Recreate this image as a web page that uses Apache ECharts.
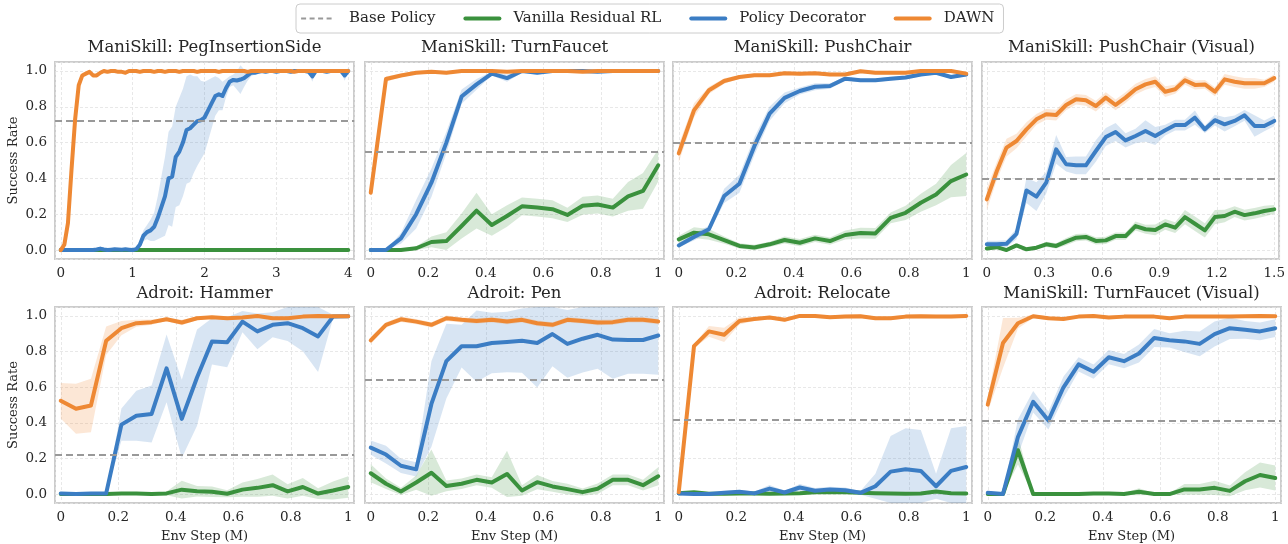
<!DOCTYPE html>
<html>
<head>
<meta charset="utf-8">
<script src="https://cdn.jsdelivr.net/npm/echarts@6/dist/echarts.min.js"></script>
<style>
html,body{margin:0;padding:0;background:#fff;}
#chart{width:1288px;height:544px;}
</style>
</head>
<body>
<div id="chart"></div>
<script>
// ---------------- DATA ----------------
const methodNames = ['Base Policy', 'Vanilla Residual RL', 'Policy Decorator', 'DAWN'];
const panelTitles = ['ManiSkill: PegInsertionSide', 'ManiSkill: TurnFaucet', 'ManiSkill: PushChair', 'ManiSkill: PushChair (Visual)',
  'Adroit: Hammer', 'Adroit: Pen', 'Adroit: Relocate', 'ManiSkill: TurnFaucet (Visual)'];
const basePolicy = [0.72, 0.553, 0.60, 0.404, 0.218, 0.635, 0.418, 0.413];
const xLimits = [[-0.08, 4.08], [-0.02, 1.02], [-0.02, 1.02], [-0.025, 1.525], [-0.02, 1.02], [-0.02, 1.02], [-0.02, 1.02], [-0.02, 1.02]];

// x positions (Env Step, M)
const stepsPeg = [0,0.05,0.1,0.15,0.2,0.25,0.3,0.35,0.4,0.45,0.5,0.55,0.6,0.65,0.7,0.75,0.8,0.85,0.9,0.95,
  1,1.05,1.1,1.15,1.2,1.25,1.3,1.35,1.4,1.45,1.5,1.55,1.6,1.65,1.7,1.75,1.8,1.85,1.9,1.95,
  2,2.05,2.1,2.15,2.2,2.25,2.3,2.35,2.4,2.45,2.5,2.55,2.6,2.65,2.7,2.75,2.8,2.85,2.9,2.95,
  3,3.05,3.1,3.15,3.2,3.25,3.3,3.35,3.4,3.45,3.5,3.55,3.6,3.65,3.7,3.75,3.8,3.85,3.9,3.95,4];
const steps1M = [0,0.053,0.105,0.158,0.211,0.263,0.316,0.368,0.421,0.474,0.526,0.579,0.632,0.684,0.737,0.789,0.842,0.895,0.947,1];
const steps15M = [0,0.052,0.103,0.155,0.207,0.259,0.31,0.362,0.414,0.466,0.517,0.569,0.621,0.672,0.724,0.776,0.828,0.879,0.931,0.983,
  1.034,1.086,1.138,1.19,1.241,1.293,1.345,1.397,1.448,1.5];

// Panel 1: PegInsertionSide
const pegVanilla = [0,0,0,0,0,0,0,0,0,0,0,0,0,0,0,0,0,0,0,0,0,0,0,0,0,0,0,0,0,0,0,0,0,0,0,0,0,0,0,0,0,
  0,0,0,0,0,0,0,0,0,0,0,0,0,0,0,0,0,0,0,0,0,0,0,0,0,0,0,0,0,0,0,0,0,0,0,0,0,0,0,0];
const pegVanillaStd = [0,0,0,0,0,0,0,0,0,0,0,0,0,0,0,0,0,0,0,0,0,0,0,0,0,0,0,0,0,0,0,0,0,0,0,0,0,0,0,0,0,
  0,0,0,0,0,0,0,0,0,0,0,0,0,0,0,0,0,0,0,0,0,0,0,0,0,0,0,0,0,0,0,0,0,0,0,0,0,0,0,0];
const pegDecor = [0,0,0,0,0,0,0,0,0,0,0.003,0.008,0.003,0,0.002,0.004,0.003,0.002,0.004,0.002,0,
  0.005,0.03,0.08,0.1,0.11,0.13,0.18,0.24,0.3,0.4,0.41,0.52,0.55,0.6,0.67,0.68,0.7,0.72,0.725,0.74,
  0.78,0.82,0.86,0.87,0.86,0.905,0.94,0.95,0.947,0.952,0.96,0.975,0.99,0.99,0.995,
  1,0.995,1,1,0.995,1,1,1,0.995,1,1,1,1,0.995,
  0.97,1,1,1,0.995,1,1,1,1,0.975,1];
const pegDecorStd = [0.003,0.003,0.003,0.003,0.003,0.003,0.003,0.003,0.003,0.003,0.003,0.003,0.003,0.003,0.003,0.003,0.003,0.003,0.003,0.003,0.003,0.003,
  0.02,0.03,0.04,0.06,0.08,0.12,0.17,0.22,0.26,0.28,0.28,0.3,0.3,0.3,0.3,0.27,0.25,0.22,0.2,0.17,0.14,0.11,0.09,0.08,0.05,0.03,0.03,0.05,0.08,0.05,0.03,0.02,0.01,
  0.005,0.005,0.005,0.005,0.005,0.005,0.005,0.005,0.005,0.005,0.005,0.005,0.005,0.005,0.005,
  0.03,0.005,0.005,0.005,0.005,0.005,0.005,0.005,0.005,0.03,0.005];
const pegDawn = [0,0.03,0.15,0.45,0.73,0.92,0.975,0.985,0.995,0.975,0.975,0.99,1,
  0.995,1,1,0.995,0.995,0.99,1,1,
  1,0.995,1,1,1,0.995,1,1,0.995,1,
  1,1,0.995,1,1,1,1,0.995,1,1,
  1,1,1,0.995,1,1,1,1,1,1,
  1,0.995,1,1,1,1,1,1,1,1,
  1,1,1,1,0.995,1,1,1,1,1,
  1,1,1,1,1,1,1,1,1,1];
const pegDawnStd = [0,0.02,0.04,0.05,0.05,0.03,0.015,0.008,0.008,0.008,0.008,0.008,0.008,0.008,0.008,0.008,0.008,0.008,0.008,0.008,0.008,
  0.008,0.008,0.008,0.008,0.008,0.008,0.008,0.008,0.008,0.008,0.008,0.008,0.008,0.008,0.008,0.008,0.008,0.008,0.008,0.008,
  0.008,0.008,0.008,0.008,0.008,0.008,0.008,0.008,0.008,0.008,0.008,0.008,0.008,0.008,0.008,0.008,0.008,0.008,0.008,0.008,
  0.008,0.008,0.008,0.008,0.008,0.008,0.008,0.008,0.008,0.008,0.008,0.008,0.008,0.008,0.008,0.008,0.008,0.008,0.008,0.008];

// Panel 2: TurnFaucet
const tfVanilla = [0,0,0,0.01,0.045,0.05,0.134,0.22,0.14,0.19,0.244,0.237,0.228,0.196,0.247,0.254,0.237,0.3,0.33,0.473];
const tfVanillaStd = [0,0,0.005,0.01,0.03,0.05,0.07,0.1,0.06,0.06,0.05,0.05,0.05,0.04,0.05,0.05,0.05,0.08,0.1,0.09];
const tfDecor = [0,0,0.065,0.2,0.376,0.6,0.857,0.925,0.985,0.96,1,0.99,1,1,1,0.995,1,1,1,1];
const tfDecorStd = [0,0,0.03,0.08,0.08,0.06,0.04,0.03,0.01,0.02,0.01,0.01,0.005,0.005,0.005,0.005,0.005,0.005,0.005,0.005];
const tfDawn = [0.32,0.955,0.975,0.99,0.995,0.99,1,1,1,0.995,1,1,1,1,0.995,1,1,1,1,1];
const tfDawnStd = [0.03,0.015,0.01,0.01,0.008,0.01,0.005,0.005,0.005,0.005,0.005,0.005,0.005,0.005,0.005,0.005,0.005,0.005,0.005,0.005];

// Panel 3: PushChair
const pcVanilla = [0.06,0.097,0.088,0.055,0.023,0.014,0.032,0.056,0.041,0.065,0.05,0.084,0.095,0.093,0.18,0.208,0.264,0.31,0.385,0.422];
const pcVanillaStd = [0.02,0.03,0.03,0.02,0.015,0.015,0.015,0.02,0.02,0.02,0.02,0.025,0.03,0.03,0.03,0.04,0.05,0.06,0.09,0.12];
const pcDecor = [0.026,0.073,0.116,0.302,0.37,0.58,0.762,0.85,0.888,0.912,0.916,0.957,0.948,0.948,0.957,0.963,0.98,0.99,0.966,0.98];
const pcDecorStd = [0.01,0.02,0.02,0.04,0.05,0.05,0.04,0.03,0.02,0.02,0.015,0.01,0.01,0.01,0.01,0.01,0.01,0.01,0.01,0.01];
const pcDawn = [0.54,0.78,0.892,0.944,0.966,0.976,0.976,0.987,0.985,0.987,0.98,0.98,0.998,0.99,0.99,0.99,1,1,1,0.985];
const pcDawnStd = [0.05,0.04,0.02,0.015,0.01,0.01,0.01,0.01,0.01,0.01,0.01,0.01,0.01,0.01,0.01,0.01,0.01,0.01,0.01,0.01];

// Panel 4: PushChair (Visual)
const pvVanilla = [0.009,0.016,0,0.026,0.004,0.013,0.032,0.023,0.047,0.069,0.073,0.051,0.054,0.078,0.078,0.134,0.116,0.112,0.143,0.125,
  0.184,0.147,0.11,0.184,0.19,0.214,0.195,0.205,0.218,0.227];
const pvVanillaStd = [0.01,0.01,0.01,0.01,0.01,0.01,0.015,0.015,0.02,0.02,0.02,0.02,0.02,0.02,0.02,0.025,0.025,0.03,0.03,0.03,
  0.04,0.04,0.04,0.04,0.035,0.03,0.03,0.03,0.03,0.025];
const pvDecor = [0.032,0.032,0.035,0.09,0.333,0.298,0.376,0.562,0.479,0.473,0.473,0.553,0.631,0.659,0.612,0.637,0.665,0.637,0.669,0.698,
  0.698,0.739,0.674,0.725,0.702,0.721,0.752,0.693,0.693,0.721];
const pvDecorStd = [0.02,0.02,0.02,0.03,0.07,0.08,0.06,0.08,0.04,0.05,0.05,0.06,0.05,0.05,0.04,0.04,0.06,0.05,0.03,0.03,
  0.03,0.04,0.02,0.03,0.04,0.03,0.03,0.06,0.03,0.03];
const pvDawn = [0.283,0.44,0.572,0.609,0.674,0.73,0.758,0.754,0.81,0.842,0.836,0.804,0.851,0.81,0.851,0.898,0.925,0.94,0.884,0.898,
  0.948,0.922,0.925,0.884,0.953,0.94,0.931,0.931,0.931,0.96];
const pvDawnStd = [0.06,0.05,0.05,0.04,0.04,0.03,0.03,0.03,0.03,0.03,0.03,0.03,0.03,0.03,0.03,0.03,0.03,0.03,0.03,0.025,
  0.025,0.025,0.025,0.025,0.03,0.03,0.03,0.03,0.02,0.02];

// Panel 5: Hammer
const hmVanilla = [0,0,0,0,0.003,0.003,0,0.004,0.025,0.016,0.013,0.002,0.025,0.035,0.05,0.015,0.04,0.003,0.02,0.04];
const hmVanillaStd = [0,0,0,0,0.005,0.005,0.005,0.01,0.05,0.03,0.03,0.02,0.04,0.05,0.06,0.04,0.05,0.03,0.05,0.06];
const hmDecor = [0.004,0,0.004,0.004,0.39,0.44,0.45,0.706,0.422,0.654,0.857,0.852,0.968,0.913,0.95,0.959,0.931,0.885,0.996,0.998];
const hmDecorStd = [0.005,0.003,0.005,0.005,0.09,0.14,0.16,0.19,0.22,0.27,0.13,0.14,0.06,0.1,0.07,0.1,0.13,0.2,0.01,0.005];
const hmDawn = [0.524,0.479,0.497,0.861,0.931,0.959,0.965,0.981,0.963,0.987,0.993,0.987,0.991,1,0.987,0.987,0.996,1,0.998,0.998];
const hmDawnStd = [0.1,0.14,0.15,0.08,0.04,0.02,0.015,0.01,0.015,0.01,0.008,0.008,0.008,0.005,0.008,0.008,0.005,0.005,0.005,0.005];

// Panel 6: Pen
const pnVanilla = [0.117,0.058,0.015,0.065,0.12,0.046,0.058,0.08,0.065,0.113,0.02,0.067,0.043,0.028,0.011,0.03,0.08,0.08,0.05,0.1];
const pnVanillaStd = [0.05,0.03,0.02,0.04,0.13,0.03,0.03,0.03,0.03,0.13,0.03,0.04,0.03,0.03,0.02,0.03,0.03,0.03,0.03,0.05];
const pnDecor = [0.261,0.222,0.159,0.139,0.506,0.746,0.83,0.83,0.848,0.854,0.861,0.848,0.898,0.843,0.872,0.894,0.867,0.865,0.865,0.89];
const pnDecorStd = [0.04,0.05,0.04,0.04,0.24,0.21,0.12,0.2,0.17,0.17,0.18,0.25,0.18,0.19,0.19,0.19,0.22,0.19,0.19,0.22];
const pnDawn = [0.863,0.95,0.981,0.968,0.95,0.987,0.978,0.972,0.978,0.968,0.978,0.959,0.95,0.978,0.972,0.963,0.965,0.978,0.978,0.968];
const pnDawnStd = [0.02,0.015,0.015,0.015,0.015,0.015,0.015,0.015,0.015,0.015,0.015,0.015,0.015,0.015,0.015,0.015,0.015,0.015,0.015,0.015];

// Panel 7: Relocate
const rlVanilla = [0.005,0.01,0.002,0.002,0.003,0.003,0.002,0.003,0.005,0.01,0.012,0.01,0.008,0.005,0.003,0.002,0.003,0.015,0.005,0.003];
const rlVanillaStd = [0.005,0.005,0.005,0.005,0.005,0.005,0.005,0.005,0.005,0.005,0.005,0.005,0.005,0.005,0.005,0.005,0.005,0.005,0.005,0.005];
const rlDecor = [0.004,0,0,0.007,0.013,0.004,0.031,0.009,0.037,0.019,0.026,0.022,0.007,0.044,0.126,0.139,0.13,0.044,0.13,0.152];
const rlDecorStd = [0.005,0.005,0.005,0.01,0.01,0.01,0.02,0.01,0.02,0.015,0.015,0.015,0.01,0.07,0.2,0.23,0.23,0.07,0.24,0.23];
const rlDawn = [0.01,0.83,0.913,0.894,0.972,0.983,0.991,0.978,1,1,0.993,0.996,0.998,0.987,0.987,0.996,0.998,0.996,0.996,1];
const rlDawnStd = [0.005,0.01,0.03,0.04,0.02,0.01,0.01,0.01,0.01,0.01,0.01,0.01,0.01,0.01,0.01,0.01,0.01,0.01,0.01,0.01];

// Panel 8: TurnFaucet (Visual)
const tvVanilla = [0,0,0.246,0,0,0,0,0.004,0.004,0,0.013,0,0,0.026,0.026,0.035,0.018,0.072,0.107,0.09];
const tvVanillaStd = [0,0,0.08,0,0,0,0,0.005,0.005,0.005,0.02,0.005,0.005,0.03,0.03,0.04,0.03,0.05,0.07,0.07];
const tvDecor = [0.007,0,0.32,0.518,0.413,0.598,0.728,0.687,0.768,0.746,0.789,0.876,0.863,0.857,0.843,0.898,0.931,0.922,0.913,0.931];
const tvDecorStd = [0.005,0.005,0.1,0.06,0.05,0.06,0.04,0.04,0.04,0.04,0.05,0.05,0.04,0.06,0.07,0.07,0.06,0.05,0.05,0.05];
const tvDawn = [0.502,0.848,0.959,0.998,0.987,0.983,0.996,1,0.991,0.996,0.996,0.996,0.987,0.996,0.996,0.996,0.996,0.998,1,0.998];
const tvDawnStd = [0.04,0.14,0.03,0.01,0.01,0.008,0.008,0.008,0.008,0.008,0.008,0.008,0.008,0.008,0.008,0.008,0.008,0.008,0.008,0.008];

// ---------------- ASSEMBLY ----------------
const panels = [
  {x: stepsPeg, v: pegVanilla, vs: pegVanillaStd, d: pegDecor, ds: pegDecorStd, w: pegDawn, ws: pegDawnStd},
  {x: steps1M, v: tfVanilla, vs: tfVanillaStd, d: tfDecor, ds: tfDecorStd, w: tfDawn, ws: tfDawnStd},
  {x: steps1M, v: pcVanilla, vs: pcVanillaStd, d: pcDecor, ds: pcDecorStd, w: pcDawn, ws: pcDawnStd},
  {x: steps15M, v: pvVanilla, vs: pvVanillaStd, d: pvDecor, ds: pvDecorStd, w: pvDawn, ws: pvDawnStd},
  {x: steps1M, v: hmVanilla, vs: hmVanillaStd, d: hmDecor, ds: hmDecorStd, w: hmDawn, ws: hmDawnStd},
  {x: steps1M, v: pnVanilla, vs: pnVanillaStd, d: pnDecor, ds: pnDecorStd, w: pnDawn, ws: pnDawnStd},
  {x: steps1M, v: rlVanilla, vs: rlVanillaStd, d: rlDecor, ds: rlDecorStd, w: rlDawn, ws: rlDawnStd},
  {x: steps1M, v: tvVanilla, vs: tvVanillaStd, d: tvDecor, ds: tvDecorStd, w: tvDawn, ws: tvDawnStd}
];

const FONT = 'DejaVu Serif';
const TXT = '#262626';
const C_BASE = '#999999', C_VAN = '#3a913d', C_DEC = '#3b7dc4', C_DAWN = '#ee8833';
const BAND = {van: 'rgba(58,145,61,0.2)', dec: 'rgba(59,125,196,0.2)', dawn: 'rgba(238,136,51,0.2)'};

const colLeft = [55, 365, 673, 982];
const rowTop = [62, 307];
const GW = 299, GH = 197;

const grids = [], xAxes = [], yAxes = [], titles = [], series = [];

function bandSeries(p, xs, mean, std, fill) {
  return {
    type: 'custom', xAxisIndex: p, yAxisIndex: p, silent: true, z: 1, clip: true,
    data: [[xs[0], mean[0]]],
    renderItem: function (params, api) {
      const up = [], lo = [];
      for (let i = 0; i < xs.length; i++) {
        up.push(api.coord([xs[i], mean[i] + std[i]]));
        lo.push(api.coord([xs[i], mean[i] - std[i]]));
      }
      const pts = up.concat(lo.reverse());
      const cs = params.coordSys;
      return {
        type: 'polygon',
        shape: {points: echarts.graphic.clipPointsByRect(pts, {x: cs.x, y: cs.y, width: cs.width, height: cs.height})},
        style: {fill: fill, stroke: null}
      };
    }
  };
}
function lineSeries(p, name, xs, ys, color) {
  return {
    type: 'line', name: name, xAxisIndex: p, yAxisIndex: p, z: 3,
    symbol: 'none', showSymbol: false, silent: true, animation: false,
    data: xs.map((x, i) => [x, ys[i]]),
    lineStyle: {color: color, width: 4, cap: 'round', join: 'round'},
    itemStyle: {color: color}
  };
}

panels.forEach((pd, p) => {
  const r = Math.floor(p / 4), c = p % 4;
  grids.push({left: colLeft[c], top: rowTop[r], width: GW, height: GH, show: true,
    borderColor: '#cccccc', borderWidth: 2, backgroundColor: 'transparent', containLabel: false});
  xAxes.push({
    type: 'value', gridIndex: p, min: xLimits[p][0], max: xLimits[p][1],
    splitNumber: p === 0 ? 4 : 5,
    axisLine: {show: false}, axisTick: {show: false},
    axisLabel: {show: true, showMinLabel: false, showMaxLabel: false, margin: 7,
      fontFamily: FONT, fontSize: 13.5, color: TXT},
    splitLine: {show: true, lineStyle: {color: '#e2e2e2', width: 0.8, type: [3, 2]}},
    name: r === 1 ? 'Env Step (M)' : '', nameLocation: 'middle', nameGap: 27,
    nameTextStyle: {fontFamily: FONT, fontSize: 13, color: TXT}
  });
  yAxes.push({
    type: 'value', gridIndex: p, min: -0.05, max: 1.05, splitNumber: 5,
    axisLine: {show: false}, axisTick: {show: false},
    axisLabel: {show: c === 0, showMinLabel: false, showMaxLabel: false, margin: 8,
      fontFamily: FONT, fontSize: 13.5, color: TXT, formatter: v => v.toFixed(1)},
    splitLine: {show: true, lineStyle: {color: '#e2e2e2', width: 0.8, type: [3, 2]}},
    name: c === 0 ? 'Success Rate' : '', nameLocation: 'middle', nameGap: 35,
    nameTextStyle: {fontFamily: FONT, fontSize: 13, color: TXT}
  });
  titles.push({
    text: panelTitles[p], left: colLeft[c] + GW / 2, top: r === 0 ? 39 : 285, textAlign: 'center', padding: 0,
    textStyle: {fontFamily: FONT, fontSize: 16.5, fontWeight: 'normal', color: TXT}
  });
  series.push(bandSeries(p, pd.x, pd.v, pd.vs, BAND.van));
  series.push(bandSeries(p, pd.x, pd.d, pd.ds, BAND.dec));
  series.push(bandSeries(p, pd.x, pd.w, pd.ws, BAND.dawn));
  series.push({
    type: 'line', name: methodNames[0], xAxisIndex: p, yAxisIndex: p, z: 2, data: [],
    symbol: 'none', silent: true,
    lineStyle: {color: C_BASE, width: 2.2, type: [7, 4]}, itemStyle: {color: C_BASE},
    markLine: {symbol: 'none', silent: true, animation: false, label: {show: false},
      lineStyle: {color: C_BASE, width: 2.2, type: [7, 4]}, emphasis: {disabled: true},
      data: [{yAxis: basePolicy[p]}]}
  });
  series.push(lineSeries(p, methodNames[1], pd.x, pd.v, C_VAN));
  series.push(lineSeries(p, methodNames[2], pd.x, pd.d, C_DEC));
  series.push(lineSeries(p, methodNames[3], pd.x, pd.w, C_DAWN));
});

const hidden = {color: 'rgba(0,0,0,0)', borderWidth: 0, opacity: 0};
const chart = echarts.init(document.getElementById('chart'), null, {renderer: 'canvas'});
chart.setOption({
  animation: false,
  backgroundColor: '#ffffff',
  title: titles,
  legend: {
    left: 296, top: 4, orient: 'horizontal',
    padding: [7, 9, 7, 4], itemGap: 28, itemWidth: 34, itemHeight: 14,
    borderColor: '#cccccc', borderWidth: 1, borderRadius: 4, backgroundColor: '#ffffff',
    selectedMode: false,
    itemStyle: hidden,
    textStyle: {fontFamily: FONT, fontSize: 15, color: TXT, padding: [0, 0, 0, 9]},
    data: [
      {name: methodNames[0], itemStyle: hidden, lineStyle: {width: 2.2, type: [5, 3.5], color: C_BASE}},
      {name: methodNames[1], itemStyle: hidden, lineStyle: {width: 4, color: C_VAN}},
      {name: methodNames[2], itemStyle: hidden, lineStyle: {width: 4, color: C_DEC}},
      {name: methodNames[3], itemStyle: hidden, lineStyle: {width: 4, color: C_DAWN}}
    ]
  },
  grid: grids, xAxis: xAxes, yAxis: yAxes, series: series
});
</script>
</body>
</html>
